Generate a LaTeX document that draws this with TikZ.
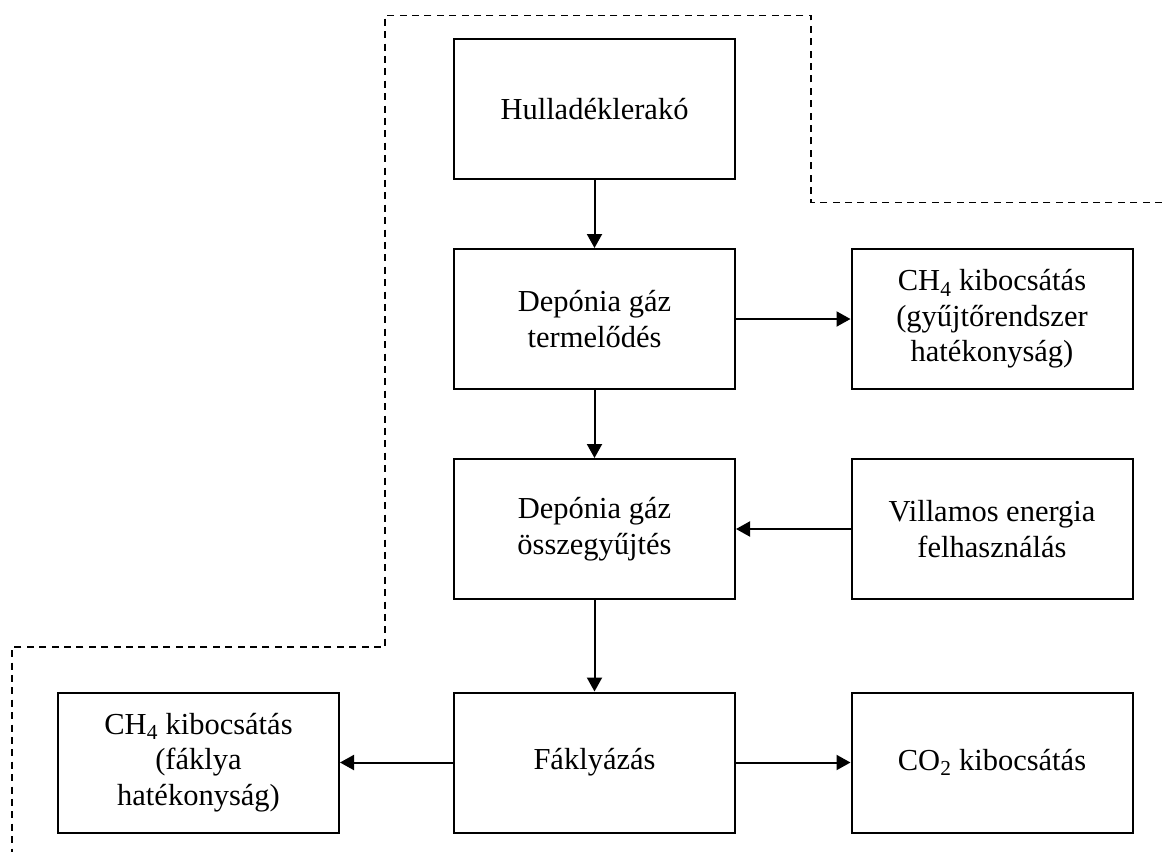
\documentclass[tikz,border=0pt]{standalone}
\usepackage{fontspec}
\setmainfont{Liberation Serif}
\usetikzlibrary{arrows.meta}
\begin{document}
\begin{tikzpicture}[x=1pt,y=-1pt,
  box/.style={draw=black,line width=2pt,minimum width=281pt,minimum height=140pt,
    align=center,inner sep=0pt,font=\fontsize{30.5pt}{35.5pt}\selectfont},
  conn/.style={line width=2pt,-{Triangle[length=14pt,width=15pt]}},
  bound/.style={line width=1.6pt,dash pattern=on 7pt off 5.4pt}]
\useasboundingbox (0,0) rectangle (1162,852);
\node[box] (hull) at (594.5,109) {Hulladéklerakó};
\node[box] (term) at (594.5,319) {Depónia gáz\\termelődés};
\node[box] (ch4a) at (992,319) {CH\textsubscript{4} kibocsátás\\(gyűjtőrendszer\\hatékonyság)};
\node[box] (coll) at (594.5,529) {Depónia gáz\\összegyűjtés};
\node[box] (vill) at (992,529) {Villamos energia\\felhasználás};
\node[box] (fakl) at (594.5,762.5) {Fáklyázás};
\node[box] (ch4b) at (198.5,762.5) {CH\textsubscript{4} kibocsátás\\(fáklya\\hatékonyság)};
\node[box] (co2) at (992,762.5) {CO\textsubscript{2} kibocsátás};
\draw[conn] (hull) -- (term);
\draw[conn] (term) -- (ch4a);
\draw[conn] (term) -- (coll);
\draw[conn] (vill) -- (coll);
\draw[conn] (coll) -- (fakl);
\draw[conn] (fakl) -- (ch4b);
\draw[conn] (fakl) -- (co2);
\coordinate (b1) at (1162,202.5);
\coordinate (b2) at (811,202.5);
\coordinate (b3) at (811,15.5);
\coordinate (b4) at (385,15.5);
\coordinate (b5) at (385,647);
\coordinate (b6) at (12,647);
\coordinate (b7) at (12,852);
\draw[bound] (b1) -- (b2) -- (b3) -- (b4) -- (b5) -- (b6) -- (b7);
\end{tikzpicture}
\end{document}
